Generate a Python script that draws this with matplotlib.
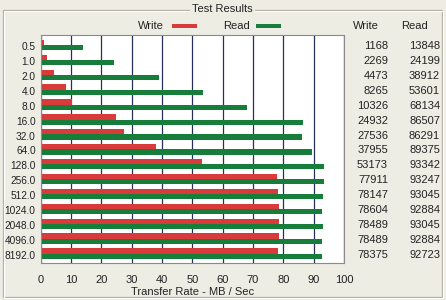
import matplotlib
matplotlib.use("Agg")
import matplotlib.pyplot as plt
import matplotlib.transforms as mtransforms
from matplotlib.patches import Rectangle

sizes = ["0.5", "1.0", "2.0", "4.0", "8.0", "16.0", "32.0", "64.0", "128.0",
         "256.0", "512.0", "1024.0", "2048.0", "4096.0", "8192.0"]
write_kb = [1168, 2269, 4473, 8265, 10326, 24932, 27536, 37955, 53173,
            77911, 78147, 78604, 78489, 78489, 78375]
read_kb = [13848, 24199, 38912, 53601, 68134, 86507, 86291, 89375, 93342,
           93247, 93045, 92884, 93045, 92884, 92723]
xticks = list(range(0, 101, 10))

BG = "#eeede4"
RED = "#d93a3a"
GREEN = "#177d3a"
GRID = "#27305a"
FONT = "Liberation Sans"
plt.rcParams["font.family"] = [FONT, "DejaVu Sans"]

W, H = 446, 300
fig = plt.figure(figsize=(W / 100, H / 100), dpi=100, facecolor=BG)

def fx(px):
    return px / W

def fy(py):
    return 1 - py / H

# group box (etched)
for off, col in ((0, "#aca899"), (1, "#ffffff")):
    fig.add_artist(Rectangle((fx(3 + off), fy(297 + off)), fx(442 - 3), (297 - 9.5) / H,
                             transform=fig.transFigure, fill=False, edgecolor=col, lw=0.9))
fig.text(fx(222.5), fy(9.5), "Test Results", ha="center", va="center", fontsize=8,
         color="#222222", bbox=dict(facecolor=BG, edgecolor="none", pad=1.5))

left, right, top, bottom = 40.5, 344, 34.5, 262.7
ax = fig.add_axes([fx(left), fy(bottom), (right - left) / W, (bottom - top) / H])
ax.set_facecolor("white")

n = len(sizes)
pitch = 14.9
y_top = -(45 - top) / pitch
y_bot = (bottom - 45) / pitch
bh = 0.35
ys = list(range(n))
ax.barh([y - bh / 2 for y in ys], [v / 1000 for v in write_kb], height=bh,
        color=RED, zorder=2)
ax.barh([y + bh / 2 for y in ys], [v / 1000 for v in read_kb], height=bh,
        color=GREEN, zorder=2)

ax.set_xlim(0, 100)
ax.set_ylim(y_bot, y_top)
ax.set_xticks(xticks)
ax.set_xticklabels([str(t) for t in xticks], fontsize=8)
ax.set_yticks([y + 0.08 for y in ys])
ax.set_yticklabels(sizes, fontsize=7.3)
ax.tick_params(axis="both", length=0, colors="#222222")
ax.tick_params(axis="x", pad=9)
ax.tick_params(axis="y", pad=3.5)
ax.grid(axis="x", color=GRID, lw=0.9, zorder=1)
ax.set_axisbelow(True)
for sp in ax.spines.values():
    sp.set_color("#8a8a8a")
    sp.set_linewidth(0.8)
ax.set_xlabel("Transfer Rate - MB / Sec", fontsize=8, color="#222222", labelpad=1)

# legend
fig.text(fx(150.5), fy(26), "Write", ha="center", va="center", fontsize=8, color="#222222")
fig.add_artist(Rectangle((fx(172), fy(27.5)), fx(25), 3.5 / H, transform=fig.transFigure,
                         color=RED, lw=0))
fig.text(fx(236), fy(26), "Read", ha="center", va="center", fontsize=8, color="#222222")
fig.add_artist(Rectangle((fx(256), fy(27.5)), fx(25), 3.5 / H, transform=fig.transFigure,
                         color=GREEN, lw=0))

# value table
fig.text(fx(365.5), fy(26), "Write", ha="center", va="center", fontsize=8, color="#222222")
fig.text(fx(414), fy(26), "Read", ha="center", va="center", fontsize=8, color="#222222")
tr = mtransforms.blended_transform_factory(fig.transFigure, ax.transData)
for y, w, r in zip(ys, write_kb, read_kb):
    ax.text(fx(388), y + 0.08, str(w), transform=tr, ha="right", va="center",
            fontsize=8, color="#222222", clip_on=False)
    ax.text(fx(440), y + 0.08, str(r), transform=tr, ha="right", va="center",
            fontsize=8, color="#222222", clip_on=False)

fig.savefig("out.png", dpi=100, facecolor=BG)
